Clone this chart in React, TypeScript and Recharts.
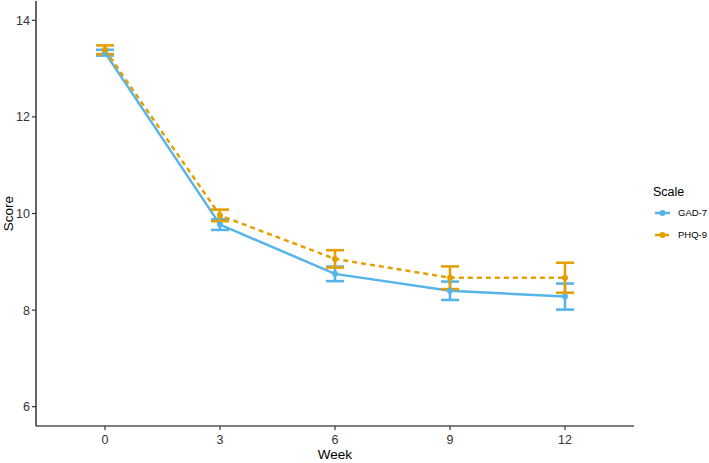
import React from 'react';
import { LineChart, Line, XAxis, YAxis, ErrorBar, Legend } from 'recharts';

const weeks = [0, 3, 6, 9, 12];
const gadMean = [13.33, 9.77, 8.75, 8.4, 8.28];
const gadErr = [0.06, 0.11, 0.15, 0.19, 0.27];
const phqMean = [13.39, 9.96, 9.06, 8.67, 8.67];
const phqErr = [0.09, 0.12, 0.18, 0.235, 0.31];
const xTicks = [0, 3, 6, 9, 12];
const yTicks = [6, 8, 10, 12, 14];
const seriesNames = ['GAD-7', 'PHQ-9'];
const seriesColors = ['#56B4E9', '#E69F00'];

const data = weeks.map((w, i) => ({
  week: w,
  gad: gadMean[i],
  gadErr: gadErr[i],
  phq: phqMean[i],
  phqErr: phqErr[i],
}));

const FONT = '"Liberation Sans", Arial, sans-serif';

const LegendContent = () => (
  <svg width={75} height={70} style={{ display: 'block' }}>
    <text x={19} y={16} fontSize={12.5} fontFamily={FONT} fill="#000">Scale</text>
    {seriesNames.map((n, i) => {
      const y = 33 + i * 22;
      return (
        <g key={n}>
          <line x1={21} x2={36} y1={y} y2={y} stroke={seriesColors[i]} strokeWidth={2.5} strokeDasharray={i === 1 ? '5 4' : undefined} />
          <circle cx={28.5} cy={y} r={3} fill={seriesColors[i]} />
          <text x={44} y={y} dy="0.35em" fontSize={9.5} fontFamily={FONT} fill="#000">{n}</text>
        </g>
      );
    })}
  </svg>
);

export default function App() {
  return (
    <div style={{ position: 'absolute', left: 0, top: 0, width: 709, height: 463, background: '#fff' }}>
      <LineChart width={709} height={463} data={data} margin={{ top: 1, right: 0, bottom: 0, left: 0 }}>
        <XAxis
          dataKey="week"
          type="number"
          domain={[-1.8, 13.8]}
          ticks={xTicks}
          allowDataOverflow
          height={37}
          tickSize={4}
          tickMargin={5}
          stroke="#000"
          strokeWidth={1.2}
          tickLine={{ stroke: '#333' }}
          tick={{ fill: '#333', fontSize: 12.5, fontFamily: FONT }}
          label={{ value: 'Week', position: 'insideBottom', offset: 4, fill: '#000', fontSize: 13.5, fontFamily: FONT }}
        />
        <YAxis
          type="number"
          domain={[5.6, 14.4]}
          ticks={yTicks}
          allowDataOverflow
          width={36}
          tickSize={4}
          tickMargin={2}
          stroke="#000"
          strokeWidth={1.2}
          tickLine={{ stroke: '#333' }}
          tick={{ fill: '#333', fontSize: 12.5, fontFamily: FONT }}
          label={{ value: 'Score', angle: -90, position: 'insideLeft', offset: 8, fill: '#000', fontSize: 13.5, fontFamily: FONT, style: { textAnchor: 'middle' } }}
        />
        <Legend
          layout="vertical"
          align="right"
          verticalAlign="middle"
          wrapperStyle={{ top: 180 }}
          content={<LegendContent />}
        />
        <Line
          dataKey="gad"
          name={seriesNames[0]}
          stroke={seriesColors[0]}
          strokeWidth={2.5}
          dot={{ r: 3, fill: seriesColors[0], stroke: seriesColors[0], strokeWidth: 0 }}
          isAnimationActive={false}
        >
          <ErrorBar dataKey="gadErr" direction="y" width={9} stroke={seriesColors[0]} strokeWidth={2.6} />
        </Line>
        <Line
          dataKey="phq"
          name={seriesNames[1]}
          stroke={seriesColors[1]}
          strokeWidth={2.5}
          strokeDasharray="5 4"
          dot={{ r: 3, fill: seriesColors[1], stroke: seriesColors[1], strokeWidth: 0, strokeDasharray: '0' }}
          isAnimationActive={false}
        >
          <ErrorBar dataKey="phqErr" direction="y" width={9} stroke={seriesColors[1]} strokeWidth={2.6} />
        </Line>
      </LineChart>
    </div>
  );
}
